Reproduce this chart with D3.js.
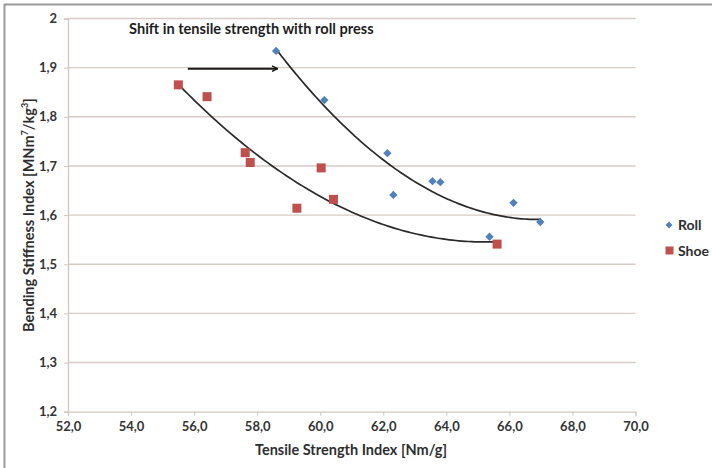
<!DOCTYPE html>
<html>
<head>
<meta charset="utf-8">
<script src="https://cdn.jsdelivr.net/npm/d3@7"></script>
<style>
  html, body { margin: 0; padding: 0; background: #fff; }
  svg text { font-family: Lato, "Liberation Sans", sans-serif; font-weight: bold; fill: #2e2e2e; }
</style>
</head>
<body>
<svg id="chart" width="712" height="468"></svg>
<script>
// Tensile strength index [Nm/g] and bending stiffness index for each press type
const rollX = [58.6, 60.13, 62.13, 62.32, 63.56, 63.81, 65.37, 66.13, 66.98];
const rollY = [1.934, 1.834, 1.726, 1.641, 1.669, 1.667, 1.556, 1.625, 1.586];
const shoeX = [55.5, 56.41, 57.62, 57.78, 59.26, 60.03, 60.42, 65.61];
const shoeY = [1.865, 1.841, 1.727, 1.707, 1.614, 1.696, 1.632, 1.541];

const xTicks = [52, 54, 56, 58, 60, 62, 64, 66, 68, 70];
const yTicks = [1.2, 1.3, 1.4, 1.5, 1.6, 1.7, 1.8, 1.9, 2.0];
const seriesNames = ["Roll", "Shoe"];

// Annotation arrow: start and end tensile strength, at stiffness level
const arrowX = [55.8, 58.65];
const arrowY = 1.898;

const svg = d3.select("#chart");
const x = d3.scaleLinear().domain([52, 70]).range([68, 635.5]);
const y = d3.scaleLinear().domain([1.2, 2.0]).range([411.7, 18.5]);

const fmtX = d => d.toFixed(1).replace(".", ",");
const fmtY = d => (d === 2 ? "2" : d.toFixed(1).replace(".", ","));

// Outer frame (top and left edges visible)
svg.append("line").attr("x1", 4).attr("x2", 712).attr("y1", 4.5).attr("y2", 4.5)
  .attr("stroke", "#9a9a9a").attr("stroke-width", 2);
svg.append("line").attr("x1", 4.5).attr("x2", 4.5).attr("y1", 4).attr("y2", 468)
  .attr("stroke", "#9a9a9a").attr("stroke-width", 2);

// Horizontal gridlines
svg.append("g").selectAll("line").data(yTicks.filter(d => d > 1.2)).join("line")
  .attr("x1", x(52)).attr("x2", x(70))
  .attr("y1", d => y(d)).attr("y2", d => y(d))
  .attr("stroke", "#d6cbc7").attr("stroke-width", 1.4);

// Axes
const xAxis = d3.axisBottom(x).tickValues(xTicks).tickFormat(fmtX).tickSize(4).tickPadding(6);
const gx = svg.append("g").attr("transform", `translate(0,${y(1.2)})`).call(xAxis);
gx.select(".domain").attr("stroke", "#d0c6c2").attr("stroke-width", 1.3);
gx.selectAll(".tick line").attr("stroke", "#d0c6c2");
gx.selectAll("text").attr("font-size", 13);

const yAxis = d3.axisLeft(y).tickValues(yTicks).tickFormat(fmtY).tickSize(4).tickPadding(7);
const gy = svg.append("g").attr("transform", `translate(${x(52)},0)`).call(yAxis);
gy.select(".domain").attr("stroke", "#d0c6c2").attr("stroke-width", 1.3);
gy.selectAll(".tick line").attr("stroke", "#d0c6c2");
gy.selectAll("text").attr("font-size", 13);
svg.selectAll(".tick text")
  .style("font-family", "Lato, 'Liberation Sans', sans-serif")
  .style("font-weight", "bold").style("fill", "#333");

// Axis titles
svg.append("text").attr("x", 351).attr("y", 455).attr("text-anchor", "middle")
  .attr("font-size", 14.5).text("Tensile Strength Index [Nm/g]");
const yt = svg.append("text").attr("transform", `translate(34,${(y(1.2) + y(2)) / 2}) rotate(-90)`)
  .attr("text-anchor", "middle").attr("font-size", 14.5);
yt.append("tspan").text("Bending Stiffness Index [MNm");
yt.append("tspan").attr("font-size", 9).attr("dy", -6).text("7");
yt.append("tspan").attr("dy", 6).text("/kg");
yt.append("tspan").attr("font-size", 9).attr("dy", -6).text("3");
yt.append("tspan").attr("dy", 6).text("]");

// Quadratic least-squares trendline
function polyFit2(xs, ys) {
  let s = [0, 0, 0, 0, 0], t = [0, 0, 0];
  xs.forEach((xv, i) => {
    let p = 1;
    for (let k = 0; k < 5; k++) { s[k] += p; if (k < 3) t[k] += p * ys[i]; p *= xv; }
  });
  const A = [[s[0], s[1], s[2], t[0]], [s[1], s[2], s[3], t[1]], [s[2], s[3], s[4], t[2]]];
  for (let c = 0; c < 3; c++) {
    for (let r = c + 1; r < 3; r++) {
      const f = A[r][c] / A[c][c];
      for (let k = c; k < 4; k++) A[r][k] -= f * A[c][k];
    }
  }
  const b = [0, 0, 0];
  for (let r = 2; r >= 0; r--) {
    let v = A[r][3];
    for (let k = r + 1; k < 3; k++) v -= A[r][k] * b[k];
    b[r] = v / A[r][r];
  }
  return xv => b[0] + b[1] * xv + b[2] * xv * xv;
}

const line = d3.line().x(d => x(d[0])).y(d => y(d[1]));
[[rollX, rollY], [shoeX, shoeY]].forEach(([xs, ys]) => {
  const f = polyFit2(xs, ys);
  const [lo, hi] = d3.extent(xs);
  const pts = d3.range(0, 101).map(i => { const xv = lo + (hi - lo) * i / 100; return [xv, f(xv)]; });
  svg.append("path").attr("d", line(pts)).attr("fill", "none")
    .attr("stroke", "#2a2a2a").attr("stroke-width", 1.7);
});

// Markers
const roll = rollX.map((v, i) => [v, rollY[i]]);
const shoe = shoeX.map((v, i) => [v, shoeY[i]]);
const diamond = d3.symbol().type(d3.symbolDiamond2).size(44);
svg.append("g").selectAll("path").data(roll).join("path")
  .attr("d", diamond).attr("transform", d => `translate(${x(d[0])},${y(d[1])})`)
  .attr("fill", "#4f81bd");
svg.append("g").selectAll("rect").data(shoe).join("rect")
  .attr("x", d => x(d[0]) - 4.5).attr("y", d => y(d[1]) - 4.5)
  .attr("width", 9).attr("height", 9).attr("fill", "#c0504d");

// Annotation
svg.append("defs").append("marker").attr("id", "head")
  .attr("viewBox", "0 0 10 10").attr("refX", 9).attr("refY", 5)
  .attr("markerWidth", 7).attr("markerHeight", 7).attr("orient", "auto")
  .attr("markerUnits", "userSpaceOnUse")
  .append("path").attr("d", "M1,1 L9,5 L1,9").attr("fill", "none")
  .attr("stroke", "#1a1a1a").attr("stroke-width", 2);
svg.append("line").attr("x1", x(arrowX[0])).attr("x2", x(arrowX[1]))
  .attr("y1", y(arrowY)).attr("y2", y(arrowY))
  .attr("stroke", "#1a1a1a").attr("stroke-width", 2).attr("marker-end", "url(#head)");
svg.append("text").attr("x", 129).attr("y", 34).attr("font-size", 14.6)
  .style("fill", "#1e1e1e").text("Shift in tensile strength with roll press");

// Legend
const lg = svg.append("g");
lg.append("path").attr("d", d3.symbol().type(d3.symbolDiamond2).size(30))
  .attr("transform", "translate(669,225)").attr("fill", "#4f81bd");
lg.append("rect").attr("x", 665.5).attr("y", 246.5).attr("width", 8).attr("height", 8).attr("fill", "#c0504d");
lg.selectAll("text").data(seriesNames).join("text")
  .attr("x", 678).attr("y", (d, i) => 230 + i * 26)
  .attr("font-size", 14).text(d => d);
</script>
</body>
</html>
